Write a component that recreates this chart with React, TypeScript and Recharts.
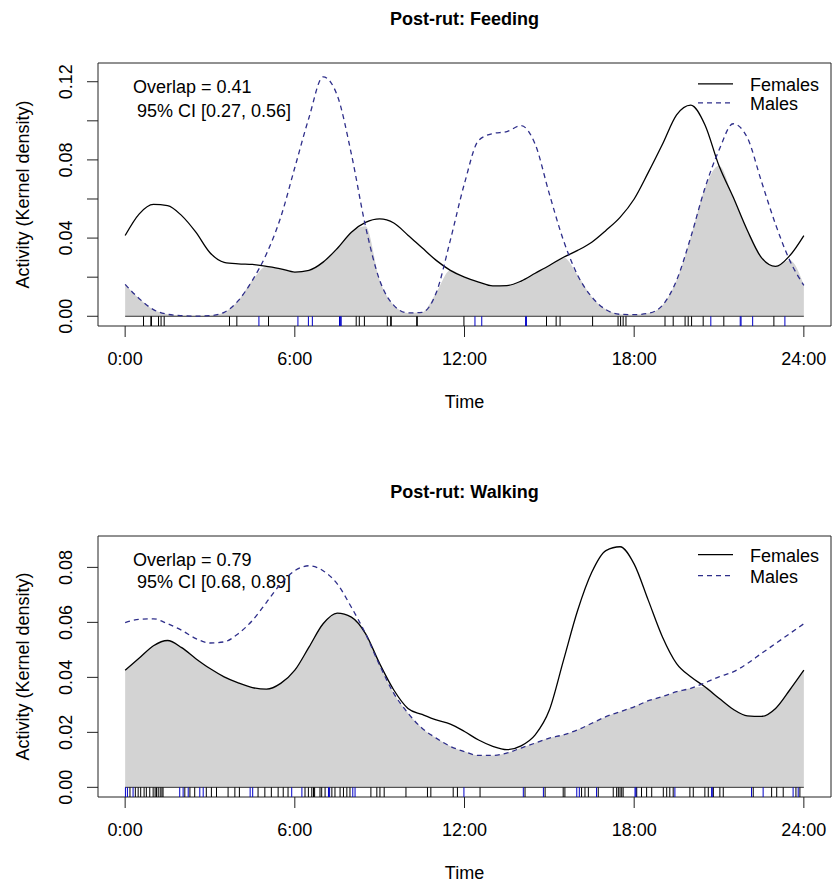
import React from 'react';
import {
  ComposedChart,
  Line,
  Area,
  XAxis,
  YAxis,
  ReferenceLine,
  ReferenceArea,
  Legend,
  Customized,
} from 'recharts';

const FONT = '"Liberation Sans", Arial, Helvetica, sans-serif';

// ---- data ----
const hours = [0, 0.5, 1, 1.5, 2, 2.5, 3, 3.5, 4, 4.5, 5, 5.5, 6, 6.5, 7, 7.5, 8, 8.5, 9, 9.5, 10, 10.5, 11, 11.5, 12, 12.5, 13, 13.5, 14, 14.5, 15, 15.5, 16, 16.5, 17, 17.5, 18, 18.5, 19, 19.5, 20, 20.5, 21, 21.5, 22, 22.5, 23, 23.5, 24];

const feedingFemales = [0.0413, 0.0524, 0.0572, 0.0566, 0.0515, 0.043, 0.0325, 0.0276, 0.0268, 0.0265, 0.0255, 0.0243, 0.0226, 0.0235, 0.0277, 0.0347, 0.043, 0.048, 0.0498, 0.0477, 0.0415, 0.035, 0.0286, 0.0235, 0.02, 0.0175, 0.0155, 0.0157, 0.018, 0.022, 0.026, 0.0302, 0.0337, 0.0379, 0.0439, 0.0506, 0.06, 0.0736, 0.088, 0.103, 0.108, 0.098, 0.077, 0.061, 0.044, 0.03, 0.0255, 0.031, 0.0413];
const feedingMales = [0.0163, 0.009, 0.0034, 0.001, 0.0003, 0.0001, 0.0003, 0.002, 0.008, 0.0184, 0.032, 0.0506, 0.0761, 0.1016, 0.1225, 0.113, 0.083, 0.046, 0.0184, 0.0056, 0.0017, 0.002, 0.012, 0.039, 0.068, 0.09, 0.0935, 0.0945, 0.0975, 0.088, 0.0626, 0.0388, 0.021, 0.0099, 0.0034, 0.001, 0.0008, 0.0015, 0.0056, 0.0184, 0.0404, 0.0655, 0.085, 0.0985, 0.0914, 0.069, 0.047, 0.0286, 0.0158];

const walkingFemales = [0.0426, 0.047, 0.0515, 0.0534, 0.0508, 0.0468, 0.0432, 0.0402, 0.038, 0.0363, 0.0357, 0.0378, 0.0426, 0.051, 0.0595, 0.0634, 0.0619, 0.0559, 0.045, 0.0354, 0.0287, 0.0265, 0.0245, 0.023, 0.0203, 0.0172, 0.0149, 0.0137, 0.0151, 0.0191, 0.0281, 0.0462, 0.0643, 0.0782, 0.0861, 0.0875, 0.0812, 0.068, 0.0547, 0.045, 0.0402, 0.0366, 0.0324, 0.0284, 0.026, 0.0258, 0.0287, 0.0354, 0.0426];
const walkingMales = [0.0599, 0.0611, 0.0613, 0.0595, 0.0571, 0.0541, 0.0525, 0.0529, 0.0559, 0.0607, 0.0673, 0.074, 0.0788, 0.0806, 0.0788, 0.074, 0.0655, 0.0559, 0.0444, 0.0342, 0.027, 0.0215, 0.0179, 0.0149, 0.013, 0.0116, 0.0116, 0.0125, 0.0143, 0.0161, 0.0179, 0.0191, 0.0209, 0.0233, 0.0257, 0.0275, 0.0293, 0.0315, 0.033, 0.0348, 0.036, 0.038, 0.0402, 0.042, 0.045, 0.0487, 0.0523, 0.0559, 0.0595];

// observation times (rug)
const feedingRugFemales = [0.65, 0.91, 0.93, 1.18, 1.27, 1.38, 3.69, 3.95, 5.07, 8.17, 8.28, 8.46, 9.27, 9.39, 9.41, 10.31, 10.33, 11.98, 14.9, 15.24, 15.38, 16.53, 17.43, 17.52, 17.61, 17.71, 19.09, 19.38, 19.8, 19.91, 20.03, 20.44, 21.17, 22.94];
const feedingRugMales = [4.73, 6.11, 6.48, 6.62, 7.58, 7.61, 7.64, 12.37, 12.61, 14.16, 14.19, 20.71, 21.75, 21.78, 22.19, 23.33];
const walkingRugFemales = [0.17, 0.36, 0.46, 0.55, 0.67, 0.75, 0.87, 0.99, 1.06, 1.11, 1.17, 1.24, 1.3, 1.34, 2.11, 2.29, 2.46, 2.87, 3.05, 3.23, 3.64, 3.88, 4.04, 4.7, 4.94, 5.17, 5.41, 5.59, 5.76, 6.36, 6.48, 6.6, 6.66, 6.7, 6.89, 6.95, 7.07, 7.31, 7.42, 7.6, 7.72, 7.84, 7.95, 8.69, 8.9, 9.01, 9.16, 9.93, 10.69, 10.81, 11.6, 11.75, 12.55, 14.14, 14.85, 15.49, 15.55, 16.14, 16.26, 16.38, 16.73, 17.26, 17.38, 17.44, 17.5, 17.56, 17.61, 18.09, 18.26, 18.44, 18.62, 19.03, 19.15, 19.26, 19.38, 19.97, 20.09, 20.5, 20.62, 20.8, 21.03, 21.15, 22.21, 22.86, 23.04, 23.27, 23.72, 23.86];
const walkingRugMales = [0.01, 0.08, 0.28, 1.93, 2.05, 2.23, 2.64, 2.76, 4.42, 4.51, 5.89, 6.25, 7.19, 7.23, 8.05, 8.13, 11.98, 14.08, 14.79, 15.97, 16.06, 16.67, 18.03, 18.06, 19.44, 20.74, 20.76, 22.15, 22.56, 23.62, 23.8];

const timeTicks = [0, 6, 12, 18, 24];
const feedingYTicks = [0, 0.02, 0.04, 0.06, 0.08, 0.1, 0.12];
const feedingYLabels = [0, 0.04, 0.08, 0.12];
const walkingYTicks = [0, 0.02, 0.04, 0.06, 0.08];
const walkingYLabels = [0, 0.02, 0.04, 0.06, 0.08];

const seriesNames = ['Females', 'Males'];
const feedingOverlap = { est: 0.41, lo: 0.27, hi: 0.56 };
const walkingOverlap = { est: 0.79, lo: 0.68, hi: 0.89 };

const FEMALE_COLOR = '#000000';
const MALE_COLOR = '#2e2e8a';
const RUG_MALE_COLOR = '#0000c8';
const FILL = '#d3d3d3';
const X_DOMAIN: [number, number] = [-0.96, 24.96];

type Cfg = {
  title: string;
  females: number[];
  males: number[];
  rugF: number[];
  rugM: number[];
  yDomain: [number, number];
  yTicks: number[];
  yLabels: number[];
  overlap: { est: number; lo: number; hi: number };
  height: number;
  top: number;
  xAxisHeight: number;
  titleY: number;
  overlapY: number;
  ciY: number;
  timeY: number;
  yLabelY: number;
  legendTop: number;
  legendLine: number;
};

const feedingCfg: Cfg = {
  title: 'Post-rut: Feeding',
  females: feedingFemales,
  males: feedingMales,
  rugF: feedingRugFemales,
  rugM: feedingRugMales,
  yDomain: [-0.00498, 0.12958],
  yTicks: feedingYTicks,
  yLabels: feedingYLabels,
  overlap: feedingOverlap,
  height: 446,
  top: 63,
  xAxisHeight: 120,
  titleY: 25,
  overlapY: 93,
  ciY: 117,
  timeY: 408,
  yLabelY: 194.5,
  legendTop: 76,
  legendLine: 19,
};

const walkingCfg: Cfg = {
  title: 'Post-rut: Walking',
  females: walkingFemales,
  males: walkingMales,
  rugF: walkingRugFemales,
  rugM: walkingRugMales,
  yDomain: [-0.003516, 0.091416],
  yTicks: walkingYTicks,
  yLabels: walkingYLabels,
  overlap: walkingOverlap,
  height: 446,
  top: 90,
  xAxisHeight: 95,
  titleY: 51.5,
  overlapY: 120,
  ciY: 141.7,
  timeY: 433,
  yLabelY: 220.5,
  legendTop: 100,
  legendLine: 20.6,
};

const YTick = (props: any) => {
  const { x, y, payload, labels } = props;
  const v = payload.value as number;
  if (!labels.some((l: number) => Math.abs(l - v) < 1e-9)) return <g />;
  const bx = x - 13;
  return (
    <text
      x={bx}
      y={y}
      transform={`rotate(-90 ${bx} ${y})`}
      textAnchor="middle"
      fontSize={18}
      fill="#000"
      fontFamily={FONT}
    >
      {v.toFixed(2)}
    </text>
  );
};

const PanelText = ({ cfg }: { cfg: Cfg }) => (
  <g fontFamily={FONT} fill="#000">
    <text x={464.5} y={cfg.titleY} textAnchor="middle" fontSize={18} fontWeight="bold">
      {cfg.title}
    </text>
    <text x={133} y={cfg.overlapY} fontSize={18}>
      {`Overlap = ${cfg.overlap.est.toFixed(2)}`}
    </text>
    <text x={137} y={cfg.ciY} fontSize={18}>
      {`95% CI [${cfg.overlap.lo.toFixed(2)}, ${cfg.overlap.hi.toFixed(2)}]`}
    </text>
    <text x={464.5} y={cfg.timeY} textAnchor="middle" fontSize={18}>
      Time
    </text>
    <text
      x={29}
      y={cfg.yLabelY}
      transform={`rotate(-90 29 ${cfg.yLabelY})`}
      textAnchor="middle"
      fontSize={18}
    >
      Activity (Kernel density)
    </text>
  </g>
);

const LegendBox = ({ lh }: { lh: number }) => {
  const lineY = (lh - 20.1) / 2 + 16.29 - 6.45 - 1.5;
  return (
    <div style={{ fontFamily: FONT, fontSize: 18, lineHeight: `${lh}px`, color: '#000' }}>
      {seriesNames.map((name, i) => (
        <div key={name} style={{ display: 'flex', height: lh, whiteSpace: 'nowrap' }}>
          <svg width={35} height={lh} style={{ display: 'block', flex: 'none' }}>
            <line
              x1={0}
              x2={35}
              y1={lineY}
              y2={lineY}
              stroke={i === 0 ? FEMALE_COLOR : MALE_COLOR}
              strokeWidth={1.3}
              strokeDasharray={i === 0 ? undefined : '5 4'}
            />
          </svg>
          <span style={{ marginLeft: 17 }}>{name}</span>
        </div>
      ))}
    </div>
  );
};

const Panel = ({ cfg }: { cfg: Cfg }) => {
  const data = hours.map((h, i) => ({
    h,
    female: cfg.females[i],
    male: cfg.males[i],
    overlap: Math.min(cfg.females[i], cfg.males[i]),
  }));
  const [y0, y1] = cfg.yDomain;
  return (
    <div style={{ width: 832, height: cfg.height, position: 'relative' }}>
      <ComposedChart
        width={832}
        height={cfg.height}
        data={data}
        margin={{ top: cfg.top, right: 1, bottom: 0, left: 0 }}
      >
        <XAxis
          dataKey="h"
          type="number"
          domain={X_DOMAIN}
          ticks={timeTicks}
          interval={0}
          allowDataOverflow
          tickFormatter={(v: number) => `${v}:00`}
          axisLine={false}
          tickSize={11}
          tickMargin={15}
          stroke="#222"
          tick={{ fill: '#000', fontSize: 18, fontFamily: FONT }}
          height={cfg.xAxisHeight}
        />
        <YAxis
          type="number"
          domain={cfg.yDomain}
          ticks={cfg.yTicks}
          interval={0}
          allowDataOverflow
          axisLine={false}
          tickSize={11}
          tickMargin={2}
          stroke="#222"
          width={98}
          tick={<YTick labels={cfg.yLabels} />}
        />
        <Area
          dataKey="overlap"
          type="monotone"
          fill={FILL}
          fillOpacity={1}
          stroke="none"
          baseValue={0}
          isAnimationActive={false}
          legendType="none"
        />
        <ReferenceLine segment={[{ x: 0, y: 0 }, { x: 24, y: 0 }]} stroke="#333" strokeWidth={1} />
        {cfg.rugF.map((t, i) => (
          <ReferenceLine
            key={`f${i}`}
            segment={[{ x: t, y: 0 }, { x: t, y: y0 }]}
            stroke={FEMALE_COLOR}
            strokeWidth={1}
          />
        ))}
        {cfg.rugM.map((t, i) => (
          <ReferenceLine
            key={`m${i}`}
            segment={[{ x: t, y: 0 }, { x: t, y: y0 }]}
            stroke={RUG_MALE_COLOR}
            strokeWidth={1}
          />
        ))}
        <Line
          dataKey="female"
          name={seriesNames[0]}
          type="monotone"
          stroke={FEMALE_COLOR}
          strokeWidth={1.3}
          dot={false}
          activeDot={false}
          isAnimationActive={false}
        />
        <Line
          dataKey="male"
          name={seriesNames[1]}
          type="monotone"
          stroke={MALE_COLOR}
          strokeWidth={1.3}
          strokeDasharray="5 4"
          dot={false}
          activeDot={false}
          isAnimationActive={false}
        />
        <ReferenceArea
          x1={X_DOMAIN[0]}
          x2={X_DOMAIN[1]}
          y1={y0}
          y2={y1}
          fill="none"
          fillOpacity={0}
          stroke="#222"
          strokeWidth={1}
          ifOverflow="visible"
        />
        <Legend
          layout="horizontal"
          verticalAlign="middle"
          align="center"
          content={() => <LegendBox lh={cfg.legendLine} />}
          wrapperStyle={{ left: 698, top: cfg.legendTop, width: 134, height: 2 * cfg.legendLine }}
        />
        <Customized component={<PanelText cfg={cfg} />} />
      </ComposedChart>
    </div>
  );
}

export default function App() {
  return (
    <div
      style={{
        position: 'absolute',
        left: 0,
        top: 0,
        width: 832,
        height: 892,
        background: '#fff',
        fontFamily: FONT,
      }}
    >
      <Panel cfg={feedingCfg} />
      <Panel cfg={walkingCfg} />
    </div>
  );
}
